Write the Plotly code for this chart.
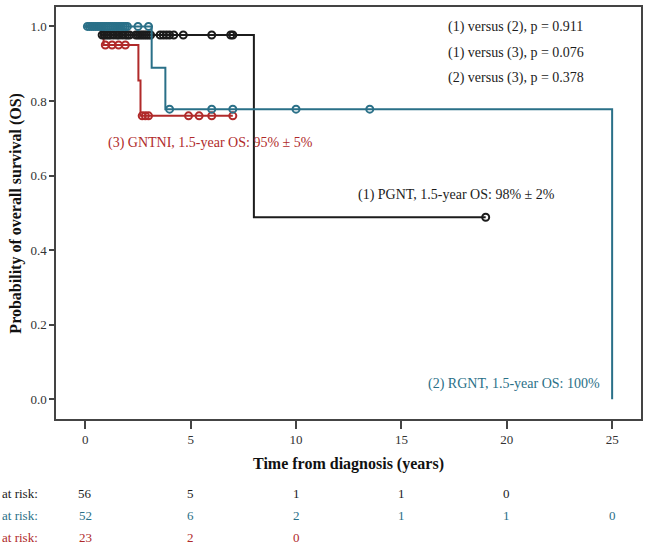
import plotly.graph_objects as go

# ---- data ----
# (1) PGNT
pgnt_t = [0, 0.75, 8.0, 19.0]
pgnt_s = [1.0, 0.977, 0.488, 0.488]
pgnt_cens_t = [0.8, 0.9, 1.0, 1.1, 1.2, 1.35, 1.5, 1.6, 1.75, 1.9, 2.0, 2.1,
               2.4, 2.5, 2.6, 2.7, 2.8, 2.9, 3.0, 3.1, 3.55, 3.7, 3.85, 4.0,
               4.2, 4.65, 6.0, 6.9, 7.0, 19.0]
pgnt_cens_s = [0.977] * 29 + [0.488]

# (2) RGNT
rgnt_t = [0, 3.15, 3.8, 25.0]
rgnt_s = [1.0, 0.889, 0.778, 0.0]
rgnt_cens_t = [0.1, 0.2, 0.3, 0.4, 0.5, 0.6, 0.7, 0.8, 0.9, 1.0, 1.1, 1.2,
               1.3, 1.4, 1.5, 1.6, 1.7, 1.8, 1.9, 2.0, 2.5, 3.0,
               4.0, 6.0, 7.0, 10.0, 13.5]
rgnt_cens_s = [1.0] * 22 + [0.778] * 5

# (3) GNTNI
gntni_t = [0, 0.87, 2.52, 2.62, 7.0]
gntni_s = [1.0, 0.95, 0.855, 0.76, 0.76]
gntni_cens_t = [0.95, 1.27, 1.58, 1.9, 2.7, 2.85, 3.0, 4.9, 5.4, 6.0, 7.0]
gntni_cens_s = [0.95] * 4 + [0.76] * 7

x_ticks = [0, 5, 10, 15, 20, 25]
y_ticks = [0.0, 0.2, 0.4, 0.6, 0.8, 1.0]
risk_times = [0, 5, 10, 15, 20, 25]
risk_pgnt = [56, 5, 1, 1, 0, None]
risk_rgnt = [52, 6, 2, 1, 1, 0]
risk_gntni = [23, 2, 0, None, None, None]

p_texts = ["(1) versus (2), p = 0.911", "(1) versus (3), p = 0.076",
           "(2) versus (3), p = 0.378"]

BLACK = "#1c1c1c"
TEAL = "#2a7088"
RED = "#b02a2a"
FONT = "Liberation Serif"

fig = go.Figure()

def add_group(t, s, ct, cs, color):
    fig.add_trace(go.Scatter(x=t, y=s, mode="lines", line=dict(color=color, width=2, shape="hv"),
                             showlegend=False, hoverinfo="skip"))
    fig.add_trace(go.Scatter(x=ct, y=cs, mode="markers",
                             marker=dict(symbol="circle-open", size=7, color=color,
                                         line=dict(width=2, color=color)),
                             showlegend=False, hoverinfo="skip"))

add_group(gntni_t, gntni_s, gntni_cens_t, gntni_cens_s, RED)
add_group(pgnt_t, pgnt_s, pgnt_cens_t, pgnt_cens_s, BLACK)
add_group(rgnt_t, rgnt_s, rgnt_cens_t, rgnt_cens_s, TEAL)

ann = []
# p-values
for i, txt in enumerate(p_texts):
    ann.append(dict(text=txt, xref="x", yref="y", x=17.1, y=0.998 - i * 0.0685,
                    xanchor="left", yanchor="middle", showarrow=False,
                    font=dict(family=FONT, size=14, color=BLACK)))
ann.append(dict(text="(3) GNTNI, 1.5-year OS: 95% ± 5%", xref="x", yref="y", x=1.0, y=0.688,
                xanchor="left", yanchor="middle", showarrow=False,
                font=dict(family=FONT, size=14, color=RED)))
ann.append(dict(text="(1) PGNT, 1.5-year OS: 98% ± 2%", xref="x", yref="y", x=12.85, y=0.549,
                xanchor="left", yanchor="middle", showarrow=False,
                font=dict(family=FONT, size=14, color=BLACK)))
ann.append(dict(text="(2) RGNT, 1.5-year OS: 100%", xref="x", yref="y", x=24.5, y=0.04,
                xanchor="right", yanchor="middle", showarrow=False,
                font=dict(family=FONT, size=14, color=TEAL)))

# axis titles
ann.append(dict(text="<b>Time from diagnosis (years)</b>", xref="paper", yref="paper",
                x=0.5, y=-0.109, xanchor="center", yanchor="middle", showarrow=False,
                font=dict(family=FONT, size=16, color="#111111")))
ann.append(dict(text="<b>Probability of overall survival (OS)</b>", xref="paper", yref="paper",
                x=-0.069, y=0.5, xanchor="center", yanchor="middle", showarrow=False,
                textangle=-90, font=dict(family=FONT, size=16, color="#111111")))

# at-risk table
rows = [(risk_pgnt, BLACK, -0.181), (risk_rgnt, TEAL, -0.234), (risk_gntni, RED, -0.287)]
for vals, color, yp in rows:
    ann.append(dict(text="at risk:", xref="paper", yref="paper", x=-0.095, y=yp,
                    xanchor="left", yanchor="middle", showarrow=False,
                    font=dict(family=FONT, size=13, color=color)))
    for t, v in zip(risk_times, vals):
        if v is None:
            continue
        ann.append(dict(text=str(v), xref="x", yref="paper", x=t, y=yp,
                        xanchor="center", yanchor="middle", showarrow=False,
                        font=dict(family=FONT, size=13, color=color)))

fig.update_layout(
    width=648, height=547,
    margin=dict(l=56, r=6, t=5, b=128),
    paper_bgcolor="white", plot_bgcolor="white",
    annotations=ann,
    font=dict(family=FONT, size=13, color="#333333"),
)
fig.update_xaxes(range=[-1.39, 26.37], tickvals=x_ticks, ticks="outside", ticklen=8,
                 tickwidth=1.5, tickcolor="#444444", showline=True, linecolor="#444444",
                 linewidth=1.5, mirror=True, showgrid=False, zeroline=False,
                 tickfont=dict(family=FONT, size=13, color="#333333"))
fig.update_yaxes(range=[-0.053, 1.052], tickvals=y_ticks, tickformat=".1f", ticks="outside",
                 ticklen=5, tickwidth=1.5, tickcolor="#444444", showline=True,
                 linecolor="#444444", linewidth=1.5, mirror=True, showgrid=False,
                 zeroline=False, tickfont=dict(family=FONT, size=13, color="#333333"))

fig.write_html("out.html", config={"displayModeBar": False},
               post_script="document.body.style.margin='0';document.body.style.overflow='hidden';")
